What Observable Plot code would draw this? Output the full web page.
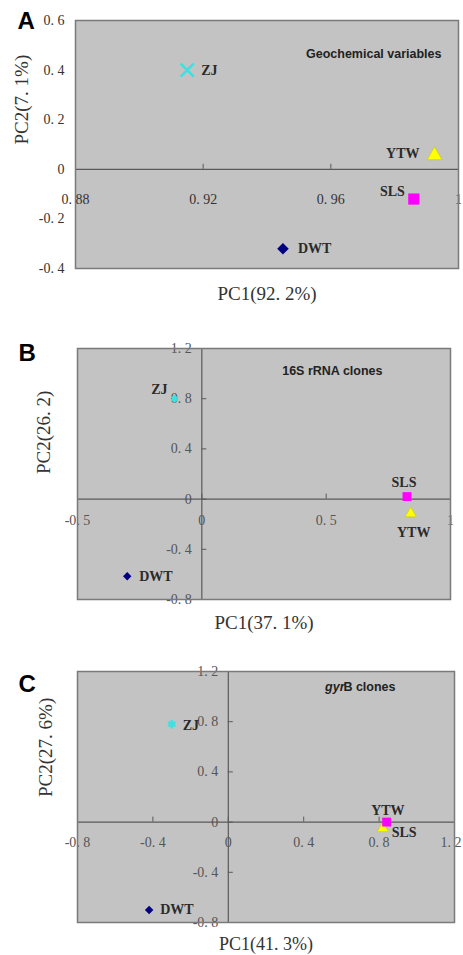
<!DOCTYPE html>
<html><head><meta charset="utf-8">
<script src="https://cdn.jsdelivr.net/npm/d3@7"></script>
<script src="https://cdn.jsdelivr.net/npm/@observablehq/plot@0.6"></script>
<style>
body{margin:0;background:#fff;width:463px;}
#chart svg{display:block;}
</style></head><body><div id="chart"></div>
<script>
const sites = ["ZJ", "DWT", "SLS", "YTW"];
// Panel A: Geochemical variables
const pc1A = [0.915, 0.945, 0.986, 0.9925];
const pc2A = [0.40, -0.32, -0.12, 0.056];
const ticksXA = [0.88, 0.92, 0.96, 1];
const ticksYA = [-0.4, -0.2, 0, 0.2, 0.4, 0.6];
// Panel B: 16S rRNA clones
const pc1B = [-0.11, -0.30, 0.825, 0.84];
const pc2B = [0.80, -0.615, 0.02, -0.115];
const ticksXB = [-0.5, 0, 0.5, 1];
const ticksYB = [-0.8, -0.4, 0, 0.4, 0.8, 1.2];
// Panel C: gyrB clones
const pc1C = [-0.30, -0.42, 0.84, 0.82];
const pc2C = [0.78, -0.70, 0.00, -0.05];
const ticksXC = [-0.8, -0.4, 0, 0.4, 0.8, 1.2];
const ticksYC = [-0.8, -0.4, 0, 0.4, 0.8, 1.2];
const panelLetters = ["A", "B", "C"];
const panelTitles = ["Geochemical variables", "16S rRNA clones", "gyrB clones"];
const xLabels = ["PC1(92. 2%)", "PC1(37. 1%)", "PC1(41. 3%)"];
const yLabels = ["PC2(7. 1%)", "PC2(26. 2)", "PC2(27. 6%)"];

const SERIF = "'Liberation Serif', 'Times New Roman', serif";
const SANS = "'Liberation Sans', Arial, sans-serif";
const siteColor = {ZJ: "#3fe0e0", DWT: "#000080", SLS: "#ff00ff", YTW: "#ffff00"};
const fmt = d => d === 0 ? "0" : String(d).replace(".", ". ");

function panel(cfg) {
  const rows = sites.map((s, i) => ({site: s, pc1: cfg.pc1[i], pc2: cfg.pc2[i]}));
  const ph = cfg.height - cfg.mt - cfg.mb;
  const pw = 463 - cfg.ml - cfg.mr;
  const ySpan = cfg.yDomain[1] - cfg.yDomain[0];
  const xSpan = cfg.xDomain[1] - cfg.xDomain[0];
  const tickY = 5 * ySpan / ph, tickX = 5 * xSpan / pw;
  const marks = [Plot.frame({fill: "#c3c3c3", stroke: "none"})];
  marks.push(Plot.ruleY([0], {stroke: "#5a5a5a", strokeWidth: 1.2}));
  if (cfg.centerAxis) marks.push(Plot.ruleX([0], {stroke: "#5a5a5a", strokeWidth: 1.2}));
  // x ticks on y=0 line
  marks.push(Plot.ruleX(cfg.ticksX, {x: d => d, y1: () => 0, y2: () => tickY, stroke: "#5a5a5a"}));
  if (cfg.centerAxis) {
    marks.push(Plot.ruleY(cfg.ticksY, {y: d => d, x1: () => 0, x2: () => tickX, stroke: "#5a5a5a"}));
    marks.push(Plot.text(cfg.ticksY, {x: () => 0, y: d => d, text: fmt, textAnchor: "end", dx: -10,
      fontSize: 14, fontFamily: SERIF, fill: cfg.tickFill}));
  } else {
    marks.push(Plot.text(cfg.ticksY, {frameAnchor: "left", y: d => d, text: fmt, textAnchor: "end", dx: -11,
      fontSize: 14, fontFamily: SERIF, fill: cfg.tickFill}));
  }
  const xMax = cfg.xDomain[1];
  const innerTicks = cfg.lastTickEnd ? cfg.ticksX.filter(d => d !== xMax) : cfg.ticksX;
  marks.push(Plot.text(innerTicks, {x: d => d, y: () => 0, text: fmt, dy: cfg.xTickDy,
    fontSize: 14, fontFamily: SERIF, fill: cfg.tickFill}));
  if (cfg.lastTickEnd) {
    marks.push(Plot.text(cfg.ticksX.filter(d => d === xMax), {x: d => d, y: () => 0, text: fmt, dy: cfg.xTickDy,
      dx: 7, textAnchor: "end", fontSize: 14, fontFamily: SERIF, fill: cfg.tickFill}));
  }
  // markers
  const order = ["ZJ", "DWT", "YTW", "SLS"];
  for (const s of order) {
    const st = cfg.sym[s];
    const data = rows.filter(r => r.site === s);
    if (st.stroke) {
      marks.push(Plot.dot(data, {x: "pc1", y: "pc2", symbol: () => st.symbol, r: st.r,
        stroke: siteColor[s], strokeWidth: st.sw, fill: "none"}));
    } else {
      marks.push(Plot.dot(data, {x: "pc1", y: "pc2", symbol: () => st.symbol, r: st.r,
        fill: siteColor[s], stroke: st.edge || "none", strokeWidth: 0.6}));
    }
  }
  // point labels
  for (const s of sites) {
    const p = cfg.lab[s];
    marks.push(Plot.text(rows.filter(r => r.site === s), {x: "pc1", y: "pc2", text: "site",
      dx: p[0], dy: p[1], textAnchor: p[2], fontSize: 14, fontWeight: "bold", fontFamily: SERIF,
      fill: "#2a2a2a"}));
  }
  marks.push(Plot.frame({stroke: "#7a7a7a", strokeWidth: 1.5}));
  // title
  if (cfg.italicPrefix) {
    const rest = cfg.title.slice(cfg.italicPrefix.length);
    marks.push(Plot.text([cfg.italicPrefix], {text: d => d, frameAnchor: "top-right", textAnchor: "end",
      dx: cfg.titleDx - cfg.restWidth, dy: cfg.titleDy, fontSize: 12.5, fontWeight: "bold", fontStyle: "italic",
      fontFamily: SANS, fill: "#222"}));
    marks.push(Plot.text([rest], {text: d => d, frameAnchor: "top-right", textAnchor: "end",
      dx: cfg.titleDx, dy: cfg.titleDy, fontSize: 12.5, fontWeight: "bold", fontFamily: SANS, fill: "#222"}));
  } else {
    marks.push(Plot.text([cfg.title], {text: d => d, frameAnchor: "top-right", textAnchor: "end",
      dx: cfg.titleDx, dy: cfg.titleDy, fontSize: 12.5, fontWeight: "bold", fontFamily: SANS, fill: "#222"}));
  }
  // panel letter
  marks.push(Plot.text([cfg.letter], {text: d => d, frameAnchor: "top-left", textAnchor: "start", lineAnchor: "top",
    dx: cfg.letterDx, dy: cfg.letterDy, fontSize: 24, fontWeight: "bold", fontFamily: SANS, fill: "#000"}));
  // axis labels
  marks.push(Plot.text([cfg.xLabel], {text: d => d, frameAnchor: "bottom", lineAnchor: "middle", dy: cfg.xLabDy,
    fontSize: cfg.xLabSize || 19, fontFamily: SERIF, fill: "#333"}));
  marks.push(Plot.text([cfg.yLabel], {text: d => d, frameAnchor: "left", rotate: -90, dx: cfg.yLabDx,
    fontSize: 19, fontFamily: SERIF, fill: "#333", letterSpacing: cfg.yLabSpacing}));
  return Plot.plot({
    width: 463, height: cfg.height,
    marginTop: cfg.mt, marginBottom: cfg.mb, marginLeft: cfg.ml, marginRight: cfg.mr,
    x: {domain: cfg.xDomain, axis: null},
    y: {domain: cfg.yDomain, axis: null},
    style: {background: "#fff", overflow: "visible"},
    marks
  });
}

const chart = document.getElementById("chart");
chart.append(panel({
  letter: panelLetters[0], title: panelTitles[0], xLabel: xLabels[0], yLabel: yLabels[0],
  pc1: pc1A, pc2: pc2A, ticksX: ticksXA, ticksY: ticksYA,
  xDomain: [0.88, 1], yDomain: [-0.4, 0.6], height: 310, mt: 20, mb: 42, ml: 75, mr: 5,
  centerAxis: false, xTickDy: 30, tickFill: "#333",
  sym: {ZJ: {symbol: "times", r: 6, stroke: true, sw: 2.5}, DWT: {symbol: "diamond2", r: 5.2},
        SLS: {symbol: "square", r: 6.3}, YTW: {symbol: "triangle", r: 5.5, edge: "#c8c800"}},
  lab: {ZJ: [14, 0, "start"], DWT: [15, 0, "start"], SLS: [-9, -8, "end"], YTW: [-15, -2, "end"]},
  titleDx: -17, titleDy: 29, letterDx: -58, letterDy: -9, xLabDy: 25, yLabDx: -54, yLabSpacing: "1.5px"
}));
chart.append(panel({
  letter: panelLetters[1], title: panelTitles[1], xLabel: xLabels[1], yLabel: yLabels[1],
  pc1: pc1B, pc2: pc2B, ticksX: ticksXB, ticksY: ticksYB,
  xDomain: [-0.5, 1], yDomain: [-0.8, 1.2], height: 320, mt: 38, mb: 31, ml: 77, mr: 13,
  centerAxis: true, xTickDy: 21, tickFill: "#555",
  sym: {ZJ: {symbol: "asterisk", r: 3.5, stroke: true, sw: 2.2}, DWT: {symbol: "diamond2", r: 3.8},
        SLS: {symbol: "square", r: 5}, YTW: {symbol: "triangle", r: 4.2, edge: "#c8c800"}},
  lab: {ZJ: [-7, -9, "end"], DWT: [12, 0, "start"], SLS: [-3, -14, "middle"], YTW: [3, 19, "middle"]},
  titleDx: -68, titleDy: 18, letterDx: -59, letterDy: -5, xLabDy: 23, yLabDx: -34, yLabSpacing: "0px"
}));
chart.append(panel({
  letter: panelLetters[2], title: panelTitles[2], xLabel: xLabels[2], yLabel: yLabels[2],
  pc1: pc1C, pc2: pc2C, ticksX: ticksXC, ticksY: ticksYC,
  xDomain: [-0.8, 1.2], yDomain: [-0.8, 1.2], height: 325, mt: 41, mb: 33, ml: 77, mr: 9,
  centerAxis: true, xTickDy: 20, tickFill: "#555", lastTickEnd: true,
  sym: {ZJ: {symbol: "asterisk", r: 4, stroke: true, sw: 2.4}, DWT: {symbol: "diamond2", r: 3.8},
        SLS: {symbol: "square", r: 5}, YTW: {symbol: "triangle", r: 4.2, edge: "#c8c800"}},
  lab: {ZJ: [11, 1, "start"], DWT: [11, 0, "start"], SLS: [5, 10, "start"], YTW: [5, -18, "middle"]},
  italicPrefix: "gyr", restWidth: 51,
  titleDx: -59, titleDy: 11, letterDx: -59, letterDy: 3, xLabDy: 22, xLabSize: 18, yLabDx: -32, yLabSpacing: "0px"
}));
</script>
</body></html>
